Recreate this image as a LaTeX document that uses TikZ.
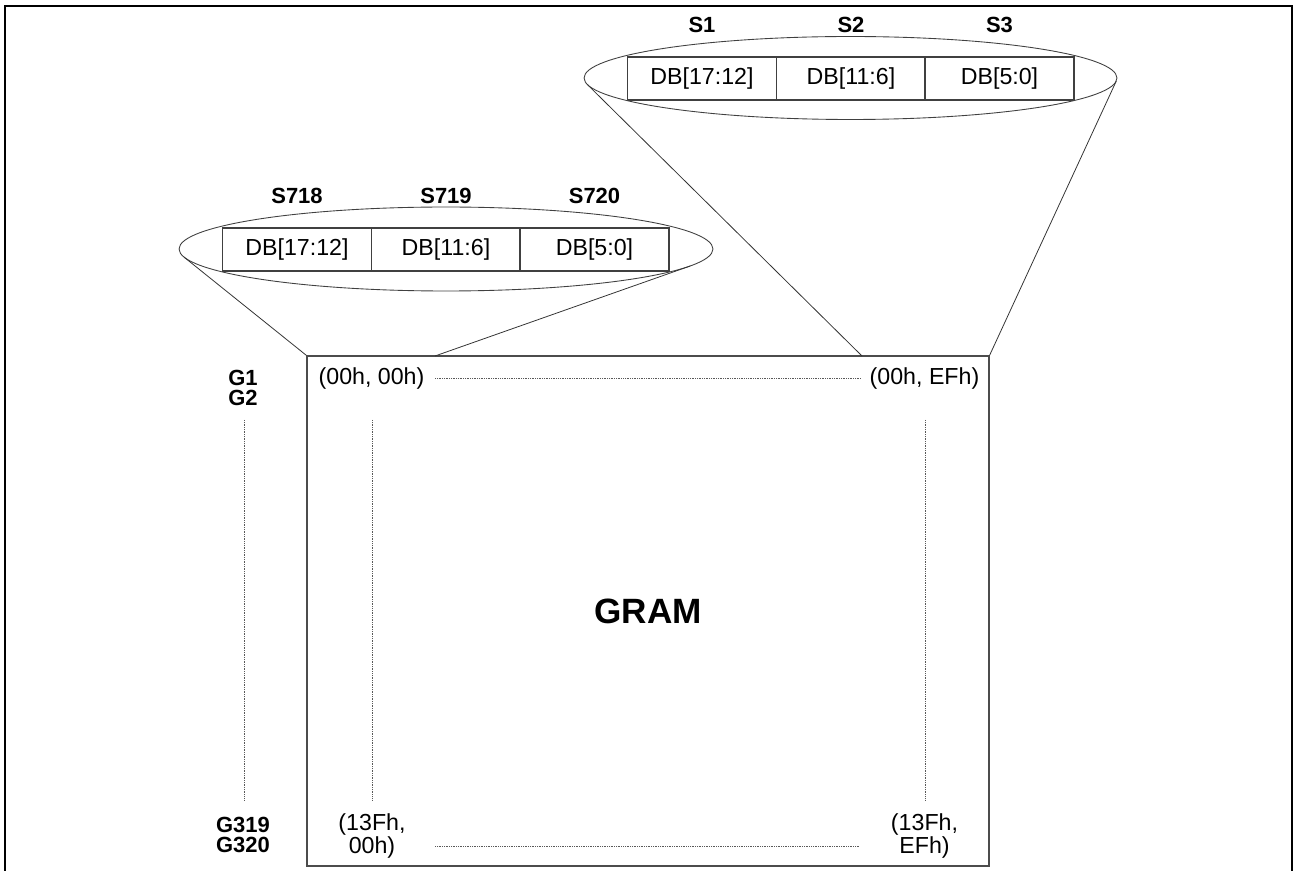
\documentclass[tikz,border=0pt]{standalone}
\usepackage{fontspec}
\setmainfont{Liberation Sans}
\usetikzlibrary{shapes.geometric}
\begin{document}
\begin{tikzpicture}[x=0.02cm,y=-0.02cm,
  font=\fontsize{13.2}{12}\selectfont,
  cell/.style={draw=black!75, line width=0.6pt, minimum width=2.98cm, minimum height=0.86cm, inner sep=0pt, anchor=center},
  oval/.style={draw=black!75, line width=0.5pt, ellipse, inner sep=0pt},
  lbl/.style={font=\bfseries\fontsize{12.5}{11.3}\selectfont, align=center, inner sep=0pt},
  coord/.style={font=\fontsize{13.2}{11.9}\selectfont, align=center, inner sep=0pt},
  thinline/.style={draw=black!80, line width=0.45pt},
  dotline/.style={draw=black!65, line width=0.4pt, dash pattern=on 0.5pt off 0.5pt}
]
\useasboundingbox (0,0) rectangle (1295,871);
% outer frame
\draw[line width=1.4pt, line join=miter] (5,872) -- (5,6) -- (1292,6) -- (1292,872);

% upper ellipse and cells
\node[oval, minimum width=10.66cm, minimum height=1.66cm] (eu) at (850.5,78) {};
\node[cell] (c1) at (702,78.5) {DB[17:12]};
\node[cell] (c2) at (851,78.5) {DB[11:6]};
\node[cell] (c3) at (999.5,78.5) {DB[5:0]};
\node[lbl] (s1) at (702,25) {S1};
\node[lbl] (s2) at (851,25) {S2};
\node[lbl] (s3) at (999.5,25) {S3};

% lower ellipse and cells
\node[oval, minimum width=10.68cm, minimum height=1.68cm] (el) at (446,249) {};
\node[cell] (d1) at (297,249.5) {DB[17:12]};
\node[cell] (d2) at (446,249.5) {DB[11:6]};
\node[cell] (d3) at (594.5,249.5) {DB[5:0]};
\node[lbl] (s718) at (297,196) {S718};
\node[lbl] (s719) at (446,196) {S719};
\node[lbl] (s720) at (594.5,196) {S720};

% GRAM box
\node[draw=black!70, line width=0.7pt, minimum width=13.64cm, minimum height=10.2cm, inner sep=0pt,
      font=\bfseries\fontsize{20}{20}\selectfont] (gram) at (648,611) {GRAM};

% tangent points
\coordinate (tul) at (587.3,84.5);
\coordinate (tur) at (1116.3,81.0);
\coordinate (tll) at (184.0,257.1);
\coordinate (tlr) at (689.9,266.1);
\coordinate (gtop1) at (435,356);
\coordinate (gtop2) at (862,356);

\draw[thinline] (tul) -- (gtop2);
\draw[thinline] (tur) -- (gram.north east);
\draw[thinline] (tll) -- (gram.north west);
\draw[thinline] (tlr) -- (gtop1);

% gate labels
\node[lbl] (g12) at (243,388) {G1\\G2};
\node[lbl] (g320) at (243,835) {G319\\G320};

% coordinates
\node[coord] (a00) at (371.5,378) {(00h, 00h)};
\node[coord] (a0E) at (924.5,378) {(00h, EFh)};
\node[coord] (a130) at (372,836) {(13Fh,\\00h)};
\node[coord] (a13E) at (924.5,836) {(13Fh,\\EFh)};

\coordinate (h1a) at (435,378);
\coordinate (h1b) at (861,378);
\coordinate (h2a) at (435,846);
\coordinate (h2b) at (860,846);
\coordinate (v1a) at (372,420);
\coordinate (v1b) at (372,800);
\coordinate (v2a) at (925.5,420);
\coordinate (v2b) at (925.5,800);
\coordinate (v3a) at (244,420);
\coordinate (v3b) at (244,800);

\draw[dotline] (h1a) -- (h1b);
\draw[dotline] (h2a) -- (h2b);
\draw[dotline] (v1a) -- (v1b);
\draw[dotline] (v2a) -- (v2b);
\draw[dotline] (v3a) -- (v3b);
\end{tikzpicture}
\end{document}
